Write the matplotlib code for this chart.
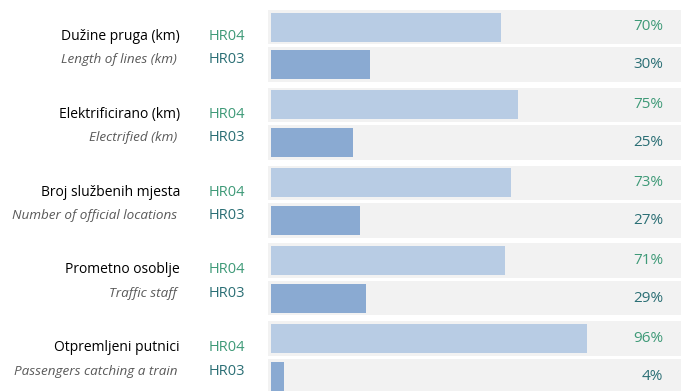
import matplotlib.pyplot as plt
from matplotlib import transforms

# Podaci
naslovi_hr = ['Dužine pruga (km)', 'Elektrificirano (km)', 'Broj službenih mjesta',
              'Prometno osoblje', 'Otpremljeni putnici']
naslovi_en = ['Length of lines (km)', 'Electrified (km)', 'Number of official locations',
              'Traffic staff', 'Passengers catching a train']
regije = ['HR04', 'HR03']
hr04 = [70, 75, 73, 71, 96]
hr03 = [30, 25, 27, 29, 4]

# Boje
c_traka = '#f2f2f2'
c_hr04 = '#b8cce4'
c_hr03 = '#8aaad2'
t_hr04 = '#3f9a78'
t_hr03 = '#2b6f75'

plt.rcParams['font.family'] = ['Open Sans', 'DejaVu Sans']

W, H = 681, 391
fig = plt.figure(figsize=(W / 100, H / 100), dpi=100)
# os trake: od 268 px do desnog ruba, 0% na 271 px, 100% na 600 px
px_po_post = (600 - 271) / 100
ax = fig.add_axes([268 / W, 0, 1 - 268 / W, 1])
ax.set_xlim(-3 / px_po_post, (W - 271) / px_po_post)
ax.set_ylim(H, 0)
ax.axis('off')

korak = 77.9
xmax = (W - 271) / px_po_post
lijevo = -3 / px_po_post
fig_y = transforms.blended_transform_factory(fig.transFigure, ax.transData)

for i in range(len(hr04)):
    y1 = 27 + korak * i
    y2 = y1 + 37.5
    # pozadinske trake
    ax.barh([y1, y2], xmax - lijevo, left=lijevo, height=34.5, color=c_traka, zorder=1)
    # vrijednosti
    ax.barh(y1, hr04[i], height=29, color=c_hr04, zorder=2)
    ax.barh(y2, hr03[i], height=29, color=c_hr03, zorder=2)
    ax.text(663 / W, y1, f'{hr04[i]}%', transform=fig_y, ha='right', va='center',
            fontsize=11, color=t_hr04)
    ax.text(663 / W, y2, f'{hr03[i]}%', transform=fig_y, ha='right', va='center',
            fontsize=11, color=t_hr03)
    # lijevi natpisi
    sred = (y1 + y2) / 2
    ax.text(180 / W, sred - 6, naslovi_hr[i], transform=fig_y, ha='right', va='baseline',
            fontsize=10, color='black')
    ax.text(177 / W, sred + 17.5, naslovi_en[i], transform=fig_y, ha='right', va='baseline',
            fontsize=9.7, color='#595959', style='italic')
    ax.text(209 / W, sred - 6, regije[0], transform=fig_y, ha='left', va='baseline',
            fontsize=10.5, color=t_hr04)
    ax.text(209 / W, sred + 17.5, regije[1], transform=fig_y, ha='left', va='baseline',
            fontsize=10.5, color=t_hr03)

fig.savefig('out.png', dpi=100)
